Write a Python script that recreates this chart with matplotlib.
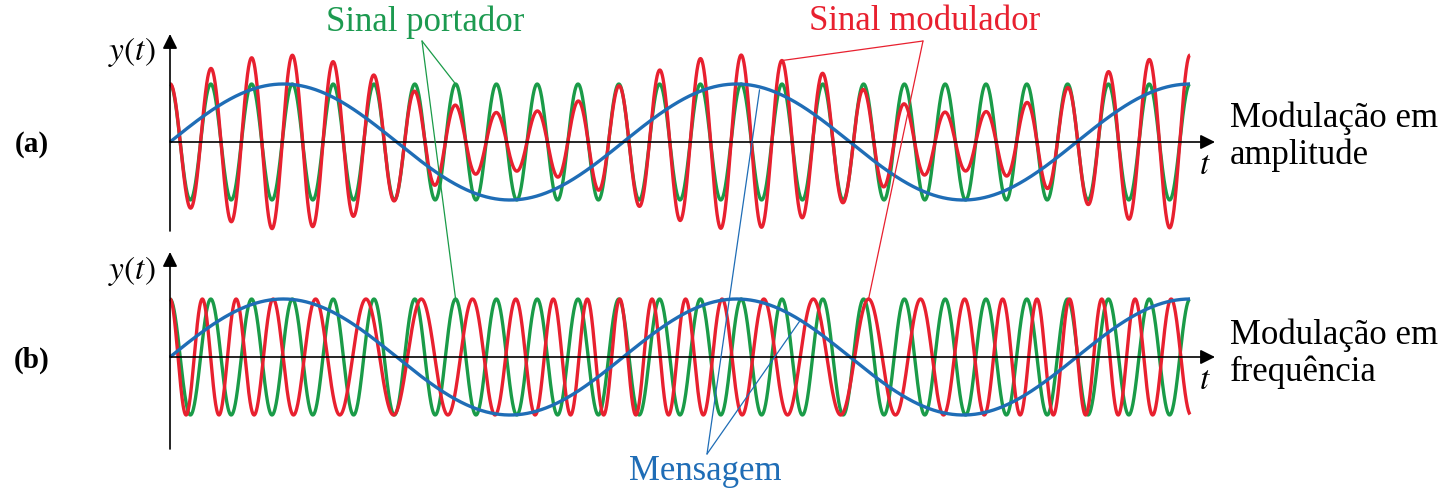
import matplotlib
matplotlib.use("Agg")
import matplotlib.pyplot as plt
import numpy as np
from matplotlib.patches import ConnectionPatch

plt.rcParams["font.family"] = ["Liberation Serif", "DejaVu Serif"]
plt.rcParams["mathtext.fontset"] = "stix"

# signal parameters
carrier_cycles = 25        # carrier periods over the drawn span
message_cycles = 2.25      # message periods over the drawn span
am_index = 0.5             # AM modulation depth
pm_index = 3.0             # peak phase deviation (rad) of the angle-modulated wave

panel_labels = ["(a)", "(b)"]
panel_titles = ["Modulação em\namplitude", "Modulação em\nfrequência"]

GREEN = "#1a9b48"
RED = "#e8202f"
BLUE = "#1f6db6"

# layout in pixels
W, H = 1440, 489
X0, XW = 170, 1020          # t=0 and span of t in pixels
AMP = 58                    # pixels per unit of y
Y_AXIS = [143, 358]         # pixel row of the t axis for each panel
SPLIT = 245

t = np.linspace(0, 1, 4000)
message = np.sin(2 * np.pi * message_cycles * t)
carrier = np.cos(2 * np.pi * carrier_cycles * t)
am = (1 + am_index * message) * carrier
pm_phase = carrier_cycles * t + pm_index / (2 * np.pi) * message
fm = np.cos(2 * np.pi * pm_phase)

fig = plt.figure(figsize=(W / 100, H / 100), dpi=100)

axes = []
for i, (top, bot) in enumerate([(0, SPLIT), (SPLIT, H)]):
    ax = fig.add_axes([0, 1 - bot / H, 1, (bot - top) / H])
    ax.set_xlim(-X0 / XW, (W - X0) / XW)
    ax.set_ylim((Y_AXIS[i] - bot) / AMP, (Y_AXIS[i] - top) / AMP)
    ax.axis("off")
    axes.append(ax)

ov = fig.add_axes([0, 0, 1, 1], zorder=5)
ov.set_xlim(0, W)
ov.set_ylim(H, 0)
ov.axis("off")
ov.patch.set_alpha(0)

for i, ax in enumerate(axes):
    yax = Y_AXIS[i]
    y_bot = (yax - (232 if i == 0 else 450)) / AMP
    y_top = (yax - (35 if i == 0 else 253)) / AMP
    t_end = (1215 - X0) / XW
    ax.annotate("", xy=(0, y_top), xytext=(0, y_bot),
                arrowprops=dict(arrowstyle="-|>", color="black", lw=1.2,
                                mutation_scale=22, shrinkA=0, shrinkB=0))
    ax.annotate("", xy=(t_end, 0), xytext=(0, 0),
                arrowprops=dict(arrowstyle="-|>", color="black", lw=1.2,
                                mutation_scale=22, shrinkA=0, shrinkB=0))
    ax.plot(t, carrier, color=GREEN, lw=2.4, solid_capstyle="butt")
    ax.plot(t, am if i == 0 else fm, color=RED, lw=2.4, solid_capstyle="butt")
    ax.plot(t, message, color=BLUE, lw=2.4, solid_capstyle="butt")

    ov.text(156, [52, 271][i], r"$y(t)$", fontsize=24, ha="right", va="center")
    ov.text(32, [145, 360][i], panel_labels[i], fontsize=21, fontweight="bold",
            ha="center", va="center")
    ov.text(1205, [166, 381][i], r"$t$", fontsize=24, ha="center", va="center")
    ov.text(1230, [137, 354][i], panel_titles[i], fontsize=25, ha="left",
            va="center", linespacing=1.15)


def leader(apex, ax, xy, color):
    con = ConnectionPatch(xyA=apex, coordsA=ov.transData, xyB=xy,
                          coordsB=ax.transData, color=color, lw=0.9,
                          shrinkA=0, shrinkB=0, zorder=6)
    fig.add_artist(con)


def msg_at(tt):
    return np.sin(2 * np.pi * message_cycles * tt)


# carrier label
ov.text(425, 22, "Sinal portador", color="#1c9a50", fontsize=25,
        ha="center", va="center")
leader((422, 42), axes[0], (7 / carrier_cycles, 1.0), GREEN)
leader((422, 42), axes[1], (7 / carrier_cycles, 1.0), GREEN)

# modulated label
ov.text(925, 22, "Sinal modulador", color=RED, fontsize=25,
        ha="center", va="center")
t_am = 15 / carrier_cycles
leader((923, 42), axes[0], (t_am, 1 + am_index * msg_at(t_am)), RED)
t_fm = np.interp(17, pm_phase, t)
leader((923, 42), axes[1], (t_fm, 1.0), RED)

# message label
ov.text(705, 472, "Mensagem", color=BLUE, fontsize=25,
        ha="center", va="center")
leader((707, 455), axes[0], (0.578, msg_at(0.578) - 0.05), BLUE)
leader((707, 455), axes[1], (0.618, msg_at(0.618)), BLUE)

fig.savefig("out.png", dpi=100, facecolor="white")
